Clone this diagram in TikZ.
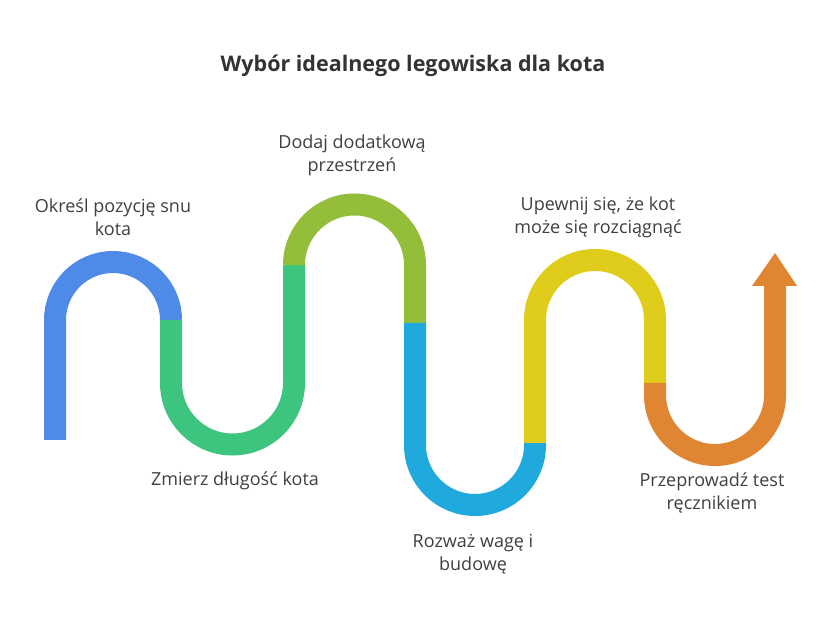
\documentclass[tikz,border=0pt]{standalone}
\usepackage{fontspec}
\setmainfont{Open Sans}
\begin{document}
\begin{tikzpicture}[x=1pt,y=1pt,
  seg/.style={line width=22pt,line cap=butt},
  lbl/.style={text=black!75,font=\fontsize{18}{23}\selectfont,align=center}]
\useasboundingbox[fill=white] (0,0) rectangle (822,624);
\definecolor{cA}{HTML}{4E8BE8}\definecolor{cB}{HTML}{3DC47E}
\definecolor{cC}{HTML}{94BE3A}\definecolor{cD}{HTML}{1FA9DC}
\definecolor{cE}{HTML}{E0CC1A}\definecolor{cF}{HTML}{E08531}
\draw[seg,cA] (55,184)--(55,304) arc[start angle=180,end angle=0,radius=58];
\draw[seg,cB] (171,304)--(171,241) arc[start angle=180,end angle=360,radius=61.5]--(294,359);
\draw[seg,cC] (294,359) arc[start angle=180,end angle=0,radius=60.5]--(415,301);
\draw[seg,cD] (415,301)--(415,179) arc[start angle=180,end angle=360,radius=60]--(535,181);
\draw[seg,cE] (535,181)--(535,304) arc[start angle=180,end angle=0,radius=60]--(655,241);
\draw[seg,cF] (655,241)--(655,229) arc[start angle=180,end angle=360,radius=60]--(775,339);
\fill[cF] (752,338)--(797,338)--(775,371)--cycle;
\node[font=\bfseries\fontsize{21.5}{26}\selectfont,text=black!80] (t) at (413,558) {Wybór idealnego legowiska dla kota};
\node[lbl] (l1) at (113,407) {Określ pozycję snu\\kota};
\node[lbl] (l2) at (352,469) {Dodaj dodatkową\\przestrzeń};
\node[lbl] (l3) at (598,407) {Upewnij się, że kot\\może się rozciągnąć};
\node[lbl] (l4) at (235,143) {Zmierz długość kota};
\node[lbl] (l5) at (473,70) {Rozważ wagę i\\budowę};
\node[lbl] (l6) at (712,131) {Przeprowadź test\\ręcznikiem};
\end{tikzpicture}
\end{document}
